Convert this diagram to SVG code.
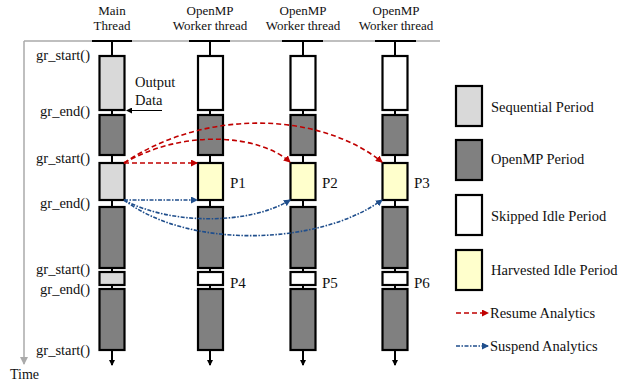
<svg xmlns="http://www.w3.org/2000/svg" width="633" height="383" viewBox="0 0 633 383">
<defs>
<marker id="ah-black" markerWidth="6" markerHeight="6" refX="5" refY="3" orient="auto" markerUnits="userSpaceOnUse"><path d="M0,0 L6,3 L0,6 z" fill="#000"/></marker>
<marker id="ah-gray" markerWidth="8" markerHeight="8" refX="7" refY="4" orient="auto" markerUnits="userSpaceOnUse"><path d="M0,0 L8,4 L0,8 z" fill="#aaa"/></marker>
<marker id="ah-red" markerWidth="7" markerHeight="7" refX="6" refY="3.5" orient="auto" markerUnits="userSpaceOnUse"><path d="M0,0 L7,3.5 L0,7 z" fill="#c00000"/></marker>
<marker id="ah-blue" markerWidth="7" markerHeight="7" refX="6" refY="3.5" orient="auto" markerUnits="userSpaceOnUse"><path d="M0,0 L7,3.5 L0,7 z" fill="#1f4e8c"/></marker>
</defs>
<style>
text{font-family:"Liberation Serif","Times New Roman",serif;fill:#111;}
.hd{font-size:13px;text-anchor:middle;}
.lb{font-size:14.5px;text-anchor:end;}
.pl{font-size:15px;}
.lg{font-size:14.5px;}
.box{stroke:#000;stroke-width:2.2;}
.seq{fill:#d9d9d9;}
.omp{fill:#808080;}
.skp{fill:#fff;}
.hrv{fill:#ffffcc;}
.ln{stroke:#000;stroke-width:2;fill:none;}
.red{stroke:#c00000;stroke-width:1.6;fill:none;stroke-dasharray:5,3;}
.blue{stroke:#1f4e8c;stroke-width:1.6;fill:none;stroke-dasharray:4,1.5,1.5,1.5;}
</style>
<rect width="633" height="383" fill="#fff"/>
<!-- frame / time axis -->
<g id="time-axis">
<path d="M24,41 H440" stroke="#aaa" stroke-width="1.5" fill="none"/>
<path d="M24,41 V364" stroke="#aaa" stroke-width="1.5" fill="none" marker-end="url(#ah-gray)"/>
<text x="10" y="379" style="font-size:14px">Time</text>
</g>
<!-- main thread -->
<g id="main-thread">
<text class="hd" x="112" y="15">Main</text>
<text class="hd" x="112" y="30">Thread</text>
<path class="ln" d="M92,41 H132 M112,41 V365" marker-end="url(#ah-black)"/>
<rect class="box seq" x="99.5" y="56" width="25" height="54"/>
<rect class="box omp" x="99.5" y="115" width="25" height="40"/>
<rect class="box seq" x="99.5" y="163" width="25" height="37"/>
<rect class="box omp" x="99.5" y="207" width="25" height="61"/>
<rect class="box seq" x="99.5" y="272" width="25" height="13"/>
<rect class="box omp" x="99.5" y="289" width="25" height="61"/>
<text class="lb" x="90" y="60">gr_start()</text>
<text class="lb" x="90" y="116">gr_end()</text>
<text class="lb" x="90" y="163">gr_start()</text>
<text class="lb" x="90" y="208">gr_end()</text>
<text class="lb" x="90" y="274">gr_start()</text>
<text class="lb" x="90" y="294">gr_end()</text>
<text class="lb" x="90" y="355">gr_start()</text>
<text x="135" y="87" style="font-size:14.5px">Output</text>
<text x="135" y="105" style="font-size:14.5px">Data</text>
<path d="M162,110.5 H127" stroke="#000" stroke-width="1.2" fill="none" marker-end="url(#ah-black)"/>
</g>
<!-- worker 1 -->
<g id="worker-1">
<text class="hd" x="210" y="15">OpenMP</text>
<text class="hd" x="210" y="30">Worker thread</text>
<path class="ln" d="M189,41 H230 M210,41 V365" marker-end="url(#ah-black)"/>
<rect class="box skp" x="198" y="56" width="25" height="54"/>
<rect class="box omp" x="198" y="115" width="25" height="40"/>
<rect class="box hrv" x="198" y="163" width="25" height="37"/>
<rect class="box omp" x="198" y="207" width="25" height="61"/>
<rect class="box skp" x="198" y="272" width="25" height="13"/>
<rect class="box omp" x="198" y="289" width="25" height="61"/>
<text class="pl" x="230" y="188">P1</text>
<text class="pl" x="230" y="288">P4</text>
</g>
<!-- worker 2 -->
<g id="worker-2">
<text class="hd" x="303" y="15">OpenMP</text>
<text class="hd" x="303" y="30">Worker thread</text>
<path class="ln" d="M282,41 H323 M303,41 V365" marker-end="url(#ah-black)"/>
<rect class="box skp" x="290.5" y="56" width="25" height="54"/>
<rect class="box omp" x="290.5" y="115" width="25" height="40"/>
<rect class="box hrv" x="290.5" y="163" width="25" height="37"/>
<rect class="box omp" x="290.5" y="207" width="25" height="61"/>
<rect class="box skp" x="290.5" y="272" width="25" height="13"/>
<rect class="box omp" x="290.5" y="289" width="25" height="61"/>
<text class="pl" x="322" y="188">P2</text>
<text class="pl" x="322" y="288">P5</text>
</g>
<!-- worker 3 -->
<g id="worker-3">
<text class="hd" x="396" y="15">OpenMP</text>
<text class="hd" x="396" y="30">Worker thread</text>
<path class="ln" d="M375,41 H416 M395,41 V365" marker-end="url(#ah-black)"/>
<rect class="box skp" x="382.5" y="56" width="25" height="54"/>
<rect class="box omp" x="382.5" y="115" width="25" height="40"/>
<rect class="box hrv" x="382.5" y="163" width="25" height="37"/>
<rect class="box omp" x="382.5" y="207" width="25" height="61"/>
<rect class="box skp" x="382.5" y="272" width="25" height="13"/>
<rect class="box omp" x="382.5" y="289" width="25" height="61"/>
<text class="pl" x="414" y="188">P3</text>
<text class="pl" x="414" y="288">P6</text>
</g>
<!-- connectors -->
<g id="connectors">
<path class="red" d="M124,163 H197" marker-end="url(#ah-red)"/>
<path class="red" d="M124,163 C185,128 260,135 290,162" marker-end="url(#ah-red)"/>
<path class="red" d="M124,163 C205,108 320,112 382,162" marker-end="url(#ah-red)"/>
<path class="blue" d="M124,200 H197" marker-end="url(#ah-blue)"/>
<path class="blue" d="M124,200 C170,225 250,225 290,200" marker-end="url(#ah-blue)"/>
<path class="blue" d="M124,200 C190,250 320,245 382,200" marker-end="url(#ah-blue)"/>
</g>
<!-- legend -->
<g id="legend">
<rect class="box seq" x="456" y="86" width="26" height="40"/>
<text class="lg" x="491" y="112">Sequential Period</text>
<rect class="box omp" x="456" y="140" width="26" height="40"/>
<text class="lg" x="491" y="164">OpenMP Period</text>
<rect class="box skp" x="456" y="195" width="26" height="40"/>
<text class="lg" x="491" y="221">Skipped Idle Period</text>
<rect class="box hrv" x="456" y="250" width="26" height="40"/>
<text class="lg" x="491" y="275">Harvested Idle Period</text>
<path class="red" d="M456,313 H488" stroke-dasharray="2,1" marker-end="url(#ah-red)"/>
<text class="lg" x="490" y="318">Resume Analytics</text>
<path class="blue" d="M456,346 H488" stroke-dasharray="2,1" marker-end="url(#ah-blue)"/>
<text class="lg" x="490" y="351">Suspend Analytics</text>
</g>
</svg>
